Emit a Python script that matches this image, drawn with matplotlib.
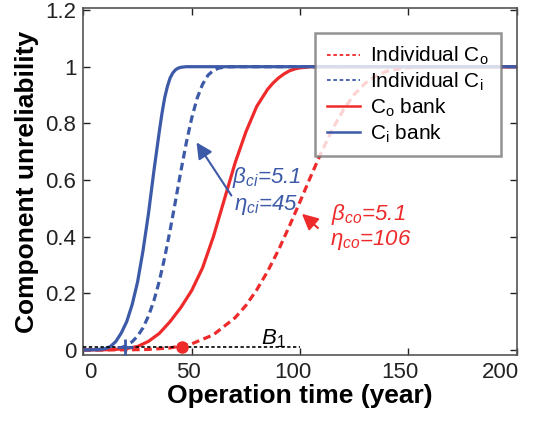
import matplotlib
matplotlib.use('Agg')
import matplotlib.pyplot as plt
import matplotlib.transforms as mtransforms
from matplotlib.lines import Line2D

plt.rcParams['font.family'] = ['Liberation Sans', 'DejaVu Sans']
plt.rcParams['mathtext.fontset'] = 'custom'
plt.rcParams['mathtext.rm'] = 'Liberation Sans'
plt.rcParams['mathtext.it'] = 'Liberation Sans:italic'
plt.rcParams['mathtext.bf'] = 'Liberation Sans:bold'

RED = '#ee2a2a'
BLUE = '#3c5aa8'

# curves
t_ind_ci = [0, 5, 10, 15, 17.5, 20, 22.5, 25, 27.5, 30, 32.5, 35, 37.5, 40, 42.5, 45,
            47.5, 50, 52.5, 55, 57.5, 60, 62.5, 65, 67.5, 70, 200]
F_ind_ci = [0, 0.00001, 0.0005, 0.0037, 0.0081, 0.0158, 0.0288, 0.0487, 0.078, 0.119,
            0.173, 0.242, 0.326, 0.422, 0.526, 0.632, 0.732, 0.819, 0.889, 0.938,
            0.970, 0.987, 0.995, 0.9985, 0.9997, 1.0, 1.0]

t_ind_co = [0, 10, 20, 30, 40, 50, 60, 70, 75, 80, 85, 90, 95, 100, 105, 110, 115,
            120, 125, 130, 135, 140, 145, 150, 160, 170, 200]
F_ind_co = [0, 0, 0.0002, 0.0016, 0.0069, 0.0214, 0.0534, 0.1135, 0.157, 0.212, 0.277,
            0.352, 0.436, 0.524, 0.614, 0.701, 0.780, 0.848, 0.902, 0.941, 0.968,
            0.984, 0.992, 0.997, 0.9997, 1.0, 1.0]

t_co_bank = [0, 10, 15, 20, 25, 30, 35, 40, 45, 50, 52.5, 55, 57.5, 60, 62.5, 65, 67.5,
             70, 72.5, 75, 77.5, 80, 82.5, 85, 87.5, 90, 92.5, 95, 97.5, 100, 105, 200]
F_co_bank = [0, 0.0005, 0.002, 0.005, 0.012, 0.03, 0.058, 0.10, 0.15, 0.21, 0.25, 0.29,
             0.345, 0.40, 0.465, 0.53, 0.595, 0.66, 0.715, 0.77, 0.815, 0.86, 0.89, 0.92,
             0.942, 0.96, 0.974, 0.985, 0.992, 0.996, 1.0, 1.0]

t_ci_bank = [0, 5, 10, 12.5, 15, 17.5, 20, 22.5, 25, 27.5, 30, 32.5, 35, 36.25, 37.5,
             38.75, 40, 41.25, 42.5, 43.75, 45, 47.5, 200]
F_ci_bank = [0, 0.0005, 0.004, 0.012, 0.03, 0.06, 0.10, 0.16, 0.24, 0.35, 0.48, 0.63,
             0.77, 0.835, 0.89, 0.93, 0.96, 0.978, 0.989, 0.995, 0.998, 1.0, 1.0]

B1_level = 0.01
B1_span = [0, 100]
B1_ci = 19.2
B1_co = 45.7

xticks = [0, 50, 100, 150, 200]
yticks = [0, 0.2, 0.4, 0.6, 0.8, 1, 1.2]
ytick_labels = ['0', '0.2', '0.4', '0.6', '0.8', '1', '1.2']

legend_labels = ['Individual C$_{\\mathregular{o}}$', 'Individual C$_{\\mathregular{i}}$',
                 'C$_{\\mathregular{o}}$ bank', 'C$_{\\mathregular{i}}$ bank']

fig = plt.figure(figsize=(5.33, 4.21), dpi=100)
ax = fig.add_axes([0.1565, 0.1568, 0.813, 0.824])

dash = (0, (2.4, 1.4))
ax.plot(t_ind_co, F_ind_co, color=RED, lw=2.3, ls=dash)
ax.plot(t_ind_ci, F_ind_ci, color=BLUE, lw=2.3, ls=dash)
ax.plot(t_co_bank, F_co_bank, color=RED, lw=2.3)
ax.plot(t_ci_bank, F_ci_bank, color=BLUE, lw=2.3)

# B1 life
ax.plot(B1_span, [B1_level, B1_level], color='k', lw=1.2, ls=(0, (2, 1.5)), zorder=3)
ax.plot([B1_ci], [B1_level], marker='+', ms=11, mew=2, color=BLUE, zorder=4)
ax.plot([B1_co], [B1_level], marker='o', ms=8, color=RED, zorder=4)
ax.text(82, 0.038, 'B$_{\\mathit{1}}$', fontsize=16, style='italic', va='center')

# parameter annotations
ax.annotate('', xy=(51.5, 0.741), xytext=(69, 0.537),
            arrowprops=dict(arrowstyle='-|>', color=BLUE, lw=1.5, mutation_scale=24))
ax.text(68.5, 0.607, 'β$_{\\mathit{ci}}$=5.1', color=BLUE, fontsize=16, style='italic', va='center')
ax.text(69.5, 0.512, 'η$_{\\mathit{ci}}$=45', color=BLUE, fontsize=16, style='italic', va='center')
ax.annotate('', xy=(99.9, 0.487), xytext=(109.2, 0.424),
            arrowprops=dict(arrowstyle='-|>', color=RED, lw=1.5, mutation_scale=24))
ax.text(114.5, 0.477, 'β$_{\\mathit{co}}$=5.1', color=RED, fontsize=16, style='italic', va='center')
ax.text(114, 0.388, 'η$_{\\mathit{co}}$=106', color=RED, fontsize=16, style='italic', va='center')

ax.set_xlim(0, 200)
ax.set_ylim(-0.018, 1.207)
ax.set_xticks(xticks)
ax.set_yticks(yticks)
ax.set_yticklabels(ytick_labels)
ax.tick_params(direction='in', length=5, width=1, labelsize=16, top=True, right=True,
               colors='#222222', pad=5)
for s in ax.spines.values():
    s.set_color('#555555')
    s.set_linewidth(1.2)

# x tick labels sit a bit off their ticks in the original
for lab, dx in zip(ax.get_xticklabels(), [7, -3, -7, -9, -16]):
    lab.set_transform(lab.get_transform() +
                      mtransforms.ScaledTranslation(dx / 100, 0, fig.dpi_scale_trans))

ax.set_xlabel('Operation time (year)', fontsize=19, fontweight='bold', labelpad=1)
ax.set_ylabel('Component unreliability', fontsize=19, fontweight='bold', labelpad=5)

handles = [Line2D([], [], color=RED, lw=1.3, ls=(0, (2, 1.5))),
           Line2D([], [], color=BLUE, lw=1.3, ls=(0, (2, 1.5))),
           Line2D([], [], color=RED, lw=1.8),
           Line2D([], [], color=BLUE, lw=1.8)]
leg = ax.legend(handles, legend_labels, loc='upper left', bbox_to_anchor=(0.535, 0.927),
                fontsize=15, frameon=True, fancybox=False, handlelength=1.6,
                handletextpad=0.5, labelspacing=0.17, borderpad=0.55, borderaxespad=0)
leg.get_frame().set_edgecolor('#777777')
leg.get_frame().set_linewidth(1.8)
leg.set_zorder(10)

fig.savefig('out.png', dpi=100)
